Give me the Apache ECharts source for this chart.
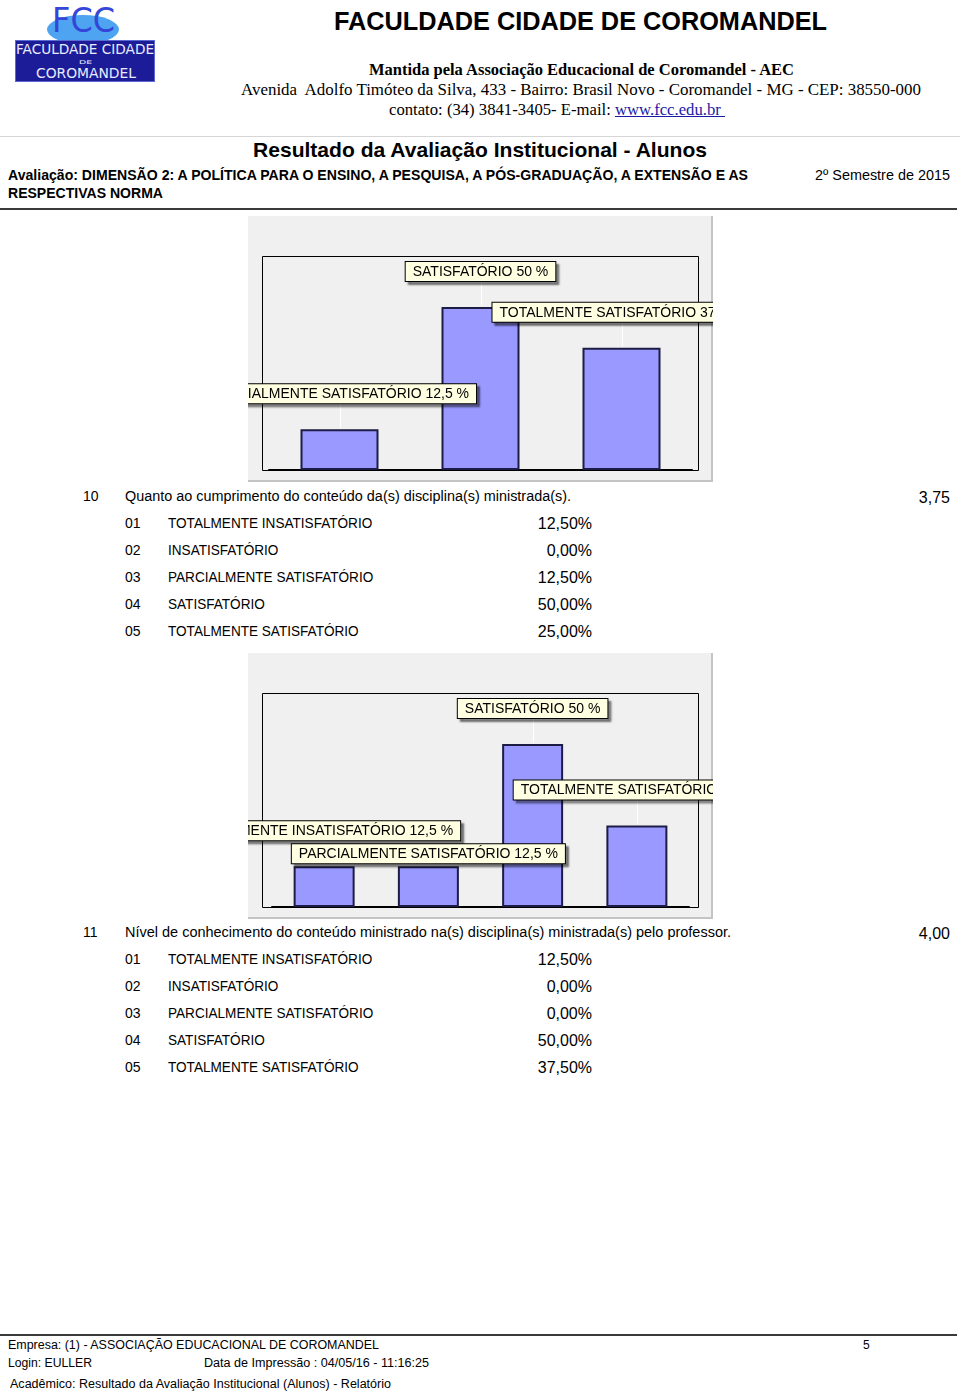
<!DOCTYPE html>
<html>
<head>
<meta charset="utf-8">
<script src="https://cdn.jsdelivr.net/npm/echarts@6/dist/echarts.min.js"></script>
<style>
  html, body { margin: 0; padding: 0; background: #fff; }
  #page { position: relative; width: 960px; height: 1393px; overflow: hidden; }
  .t { position: absolute; white-space: nowrap; line-height: 20px; font-family: 'Liberation Sans', Arial, sans-serif; color: #000; transform-origin: left center; }
  .serif { font-family: 'Liberation Serif', 'Times New Roman', serif; }
  .rule { position: absolute; left: 0; }
  .chart { position: absolute; left: 248px; width: 465px; height: 266px; }
  .logo-ell { position: absolute; left: 47px; top: 15px; width: 72px; height: 29px; border-radius: 50%; background: #4ea4f1; }
  .logo-box { position: absolute; left: 15px; top: 40px; width: 140px; height: 42px; background: #1c1c98; border: 1px solid #5a6ad0; box-sizing: border-box; }
  .logo-txt { color: #e8ecff; font-family: 'DejaVu Sans', Verdana, sans-serif; }
</style>
</head>
<body>
<div id="page">
  <!-- logo -->
  <div class="logo-ell"></div>
  <div class="t" style="left:52px;top:0px;font-size:34px;line-height:40px;color:#3346d8;font-family:'DejaVu Sans',sans-serif;" data-w="63">FCC</div>
  <div class="logo-box"></div>
  <div class="t logo-txt" style="left:16px;top:43px;font-size:14px;line-height:13px;" data-w="138">FACULDADE CIDADE</div>
  <div class="t logo-txt" style="left:79px;top:59.5px;font-size:5px;line-height:4px;" data-w="13">DE</div>
  <div class="t logo-txt" style="left:36px;top:66.5px;font-size:14px;line-height:13px;" data-w="100">COROMANDEL</div>

  <!-- header -->
  <div class="t" style="left:334px;top:11px;font-size:25px;font-weight:bold;" data-w="493">FACULDADE CIDADE DE COROMANDEL</div>
  <div class="t serif" style="left:369px;top:60px;font-size:16px;font-weight:bold;" data-w="425">Mantida pela Associação Educacional de Coromandel - AEC</div>
  <div class="t serif" style="left:241px;top:80px;font-size:16px;" data-w="680">Avenida&nbsp; Adolfo Timóteo da Silva, 433 - Bairro: Brasil Novo - Coromandel - MG - CEP: 38550-000</div>
  <div class="t serif" style="left:389px;top:100px;font-size:16px;" data-w="336">contato: (34) 3841-3405- E-mail: <span style="color:#1a1aa6;text-decoration:underline;">www.fcc.edu.br&nbsp;</span></div>
  <div class="rule" style="top:136px;width:960px;height:1px;background:#d6d6d6;"></div>

  <div class="t" style="left:253px;top:140px;font-size:21px;font-weight:bold;" data-w="454">Resultado da Avaliação Institucional - Alunos</div>
  <div class="t" style="left:8px;top:165px;font-size:14px;font-weight:bold;" data-w="740">Avaliação: DIMENSÃO 2: A POLÍTICA PARA O ENSINO, A PESQUISA, A PÓS-GRADUAÇÃO, A EXTENSÃO E AS</div>
  <div class="t" style="left:8px;top:183px;font-size:14px;font-weight:bold;" data-w="155">RESPECTIVAS NORMA</div>
  <div class="t" style="left:815px;top:165px;font-size:14px;" data-w="135">2º Semestre de 2015</div>
  <div class="rule" style="top:208px;width:957px;height:2px;background:#3a3a3a;"></div>

  <!-- charts -->
  <div id="chartTop" class="chart" style="top:216px;"></div>
  <div id="chartMid" class="chart" style="top:653px;"></div>

  <!-- footer -->
  <div class="rule" style="top:1334px;width:957px;height:2px;background:#3a3a3a;"></div>
  <div class="t" style="left:8px;top:1335px;font-size:12px;" data-w="371">Empresa: (1) - ASSOCIAÇÃO EDUCACIONAL DE COROMANDEL</div>
  <div class="t" style="left:863px;top:1335px;font-size:12px;">5</div>
  <div class="t" style="left:8px;top:1353px;font-size:12px;" data-w="84">Login: EULLER</div>
  <div class="t" style="left:204px;top:1353px;font-size:12px;" data-w="225">Data de Impressão : 04/05/16 - 11:16:25</div>
  <div class="t" style="left:10px;top:1374px;font-size:12px;" data-w="381">Acadêmico: Resultado da Avaliação Institucional (Alunos) - Relatório</div>
</div>

<script>
// top chart (previous question, continued from last page)
const topNames = ['PARCIALMENTE SATISFATÓRIO', 'SATISFATÓRIO', 'TOTALMENTE SATISFATÓRIO'];
const topValues = [12.5, 50, 37.5];

// chart for question 10
const midNames = ['TOTALMENTE INSATISFATÓRIO', 'PARCIALMENTE SATISFATÓRIO', 'SATISFATÓRIO', 'TOTALMENTE SATISFATÓRIO'];
const midValues = [12.5, 12.5, 50, 25];

// answer table
const optionCodes = ['01', '02', '03', '04', '05'];
const optionNames = ['TOTALMENTE INSATISFATÓRIO', 'INSATISFATÓRIO', 'PARCIALMENTE SATISFATÓRIO', 'SATISFATÓRIO', 'TOTALMENTE SATISFATÓRIO'];

const q10Number = '10';
const q10Text = 'Quanto ao cumprimento do conteúdo da(s) disciplina(s) ministrada(s).';
const q10Pct = [12.5, 0, 12.5, 50, 25];
const q10Avg = 3.75;

const q11Number = '11';
const q11Text = 'Nível de conhecimento do conteúdo ministrado na(s) disciplina(s) ministrada(s) pelo professor.';
const q11Pct = [12.5, 0, 0, 50, 37.5];
const q11Avg = 4.00;

const br = (v, d) => v.toFixed(d).replace('.', ',');
const brShort = v => String(v).replace('.', ',');

const page = document.getElementById('page');

function addText(txt, x, cy, size, extra) {
  const d = document.createElement('div');
  d.className = 't';
  d.textContent = txt;
  d.style.left = x + 'px';
  d.style.top = (cy - 10) + 'px';
  d.style.fontSize = size + 'px';
  if (extra) Object.assign(d.style, extra);
  page.appendChild(d);
  return d;
}

function addRight(txt, right, cy, size) {
  const d = addText(txt, 0, cy, size);
  d.style.left = 'auto';
  d.style.right = (960 - right) + 'px';
  return d;
}

function drawQuestion(num, text, pct, avg, cy, textW) {
  addText(num, 83, cy, 14);
  const q = addText(text, 125, cy, 14);
  q.dataset.w = textW;
  addRight(br(avg, 2), 950, cy + 2, 16);
  optionCodes.forEach((code, i) => {
    const y = cy + 27 * (i + 1);
    addText(code, 125, y, 14);
    const l = addText(optionNames[i], 168, y, 14);
    l.style.transform = 'scaleX(0.97)';
    addRight(br(pct[i], 2) + '%', 592, y + 1, 16);
  });
}

drawQuestion(q10Number, q10Text, q10Pct, q10Avg, 496, 446);
drawQuestion(q11Number, q11Text, q11Pct, q11Avg, 932, 606);

// squeeze texts to the widths seen on the report
document.querySelectorAll('[data-w]').forEach(el => {
  const nat = el.getBoundingClientRect().width;
  el.style.transform = 'scaleX(' + (el.dataset.w / nat) + ')';
});

function drawChart(id, names, values, cfg) {
  const chart = echarts.init(document.getElementById(id));
  const gaps = values.map((v, i) => (cfg.gaps && cfg.gaps[i] != null) ? cfg.gaps[i] : 26);
  chart.setOption({
    animation: false,
    backgroundColor: '#f0f0f0',
    grid: { left: cfg.left, width: cfg.width, top: 40, height: 214 },
    xAxis: {
      type: 'category',
      data: names,
      axisLine: { show: true, lineStyle: { color: '#000', width: 2 } },
      axisTick: { show: false },
      axisLabel: { show: false },
      splitLine: { show: false }
    },
    yAxis: { type: 'value', min: 0, max: 65.6, show: false },
    graphic: [
      // plot frame
      { type: 'rect', z: 0, shape: { x: 14.5, y: 40.5, width: 436, height: 214 }, style: { fill: null, stroke: '#000', lineWidth: 1 } },
      // panel edge
      { type: 'polyline', z: 0, shape: { points: [[464, 0], [464, 265], [0, 265]] }, style: { fill: null, stroke: '#c4c4c4', lineWidth: 2 } }
    ],
    series: [
      {
        // leader lines from the callouts down to the bars
        type: 'custom',
        z: 1,
        data: values.map((v, i) => [i, v, gaps[i]]),
        encode: { x: 0, y: 1 },
        renderItem: function (params, api) {
          const p = api.coord([api.value(0), api.value(1)]);
          const g = api.value(2);
          return {
            type: 'line',
            shape: { x1: Math.round(p[0]) + 0.5, y1: p[1] - g, x2: Math.round(p[0]) + 0.5, y2: p[1] - 1 },
            style: { stroke: '#ffffff', lineWidth: 1 }
          };
        }
      },
      {
        type: 'bar',
        z: 2,
        barWidth: cfg.barWidth,
        data: values.map((v, i) => ({ value: v, label: { distance: gaps[i] } })),
        itemStyle: { color: '#9999ff', borderColor: '#1c1c44', borderWidth: 2 },
        label: {
          show: true,
          position: 'top',
          formatter: p => p.name + ' ' + brShort(p.value) + ' %',
          fontFamily: 'Liberation Sans',
          fontSize: 14,
          color: '#000',
          backgroundColor: '#ffffe1',
          borderColor: '#000',
          borderWidth: 1,
          padding: [3, 7, 2, 7],
          shadowColor: 'rgba(0,0,0,0.45)',
          shadowBlur: 2,
          shadowOffsetX: 3,
          shadowOffsetY: 3
        }
      }
    ]
  });
}

drawChart('chartTop', topNames, topValues, { left: 21, width: 423, barWidth: 78 });
drawChart('chartMid', midNames, midValues, { left: 24, width: 417, barWidth: 61, gaps: [26, 3, 26, 26] });
</script>
</body>
</html>
